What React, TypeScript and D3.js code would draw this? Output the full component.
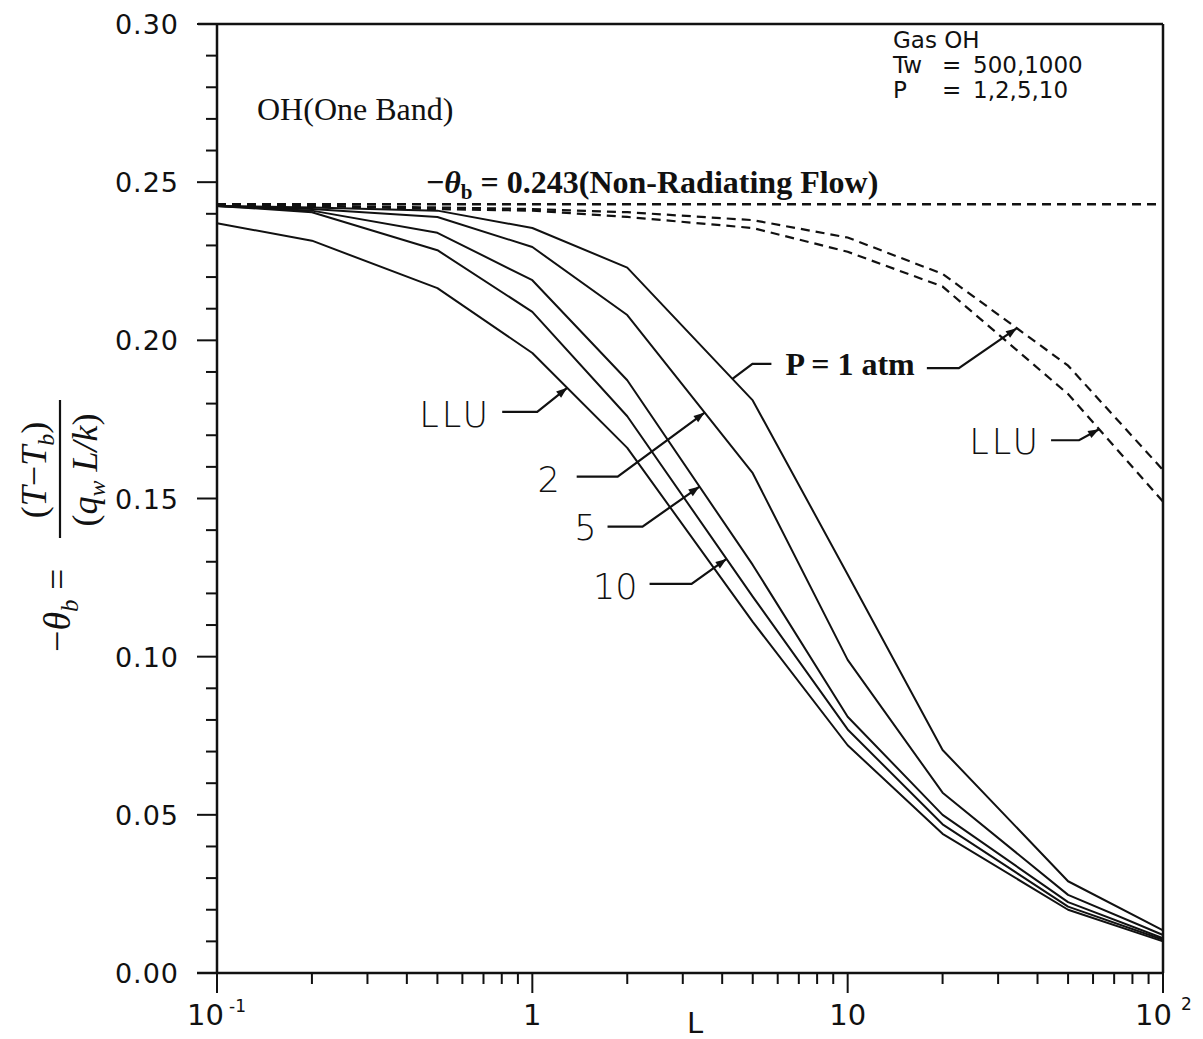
import React from 'react';
import * as d3 from 'd3';

// ---- data ----
const L_VALUES = [0.1, 0.2, 0.5, 1, 2, 5, 10, 20, 50, 100];
const P1_SOLID = [0.2425, 0.242, 0.241, 0.2355, 0.223, 0.181, 0.126, 0.0705, 0.029, 0.0135];
const P2_SOLID = [0.2425, 0.2415, 0.239, 0.2295, 0.208, 0.158, 0.099, 0.057, 0.0247, 0.012];
const P5_SOLID = [0.2425, 0.241, 0.234, 0.219, 0.1874, 0.129, 0.081, 0.05, 0.0224, 0.011];
const P10_SOLID = [0.2425, 0.2405, 0.2285, 0.209, 0.176, 0.119, 0.077, 0.047, 0.021, 0.0105];
const LLU_SOLID = [0.237, 0.2315, 0.2165, 0.196, 0.166, 0.111, 0.072, 0.044, 0.02, 0.01];
const P1_DASHED = [0.2425, 0.2425, 0.242, 0.2415, 0.2405, 0.238, 0.2325, 0.221, 0.192, 0.159];
const LLU_DASHED = [0.2425, 0.2425, 0.2415, 0.241, 0.239, 0.2355, 0.228, 0.217, 0.183, 0.149];
const NON_RADIATING = 0.243;

const X_MAJOR = [0.1, 1, 10, 100];
const Y_TICKS = [0, 0.05, 0.1, 0.15, 0.2, 0.25, 0.3];
const Y_LABELS = ['0.00', '0.05', '0.10', '0.15', '0.20', '0.25', '0.30'];

const SANS = '"DejaVu Sans", sans-serif';
const SERIF = '"Liberation Serif", "Times New Roman", serif';

function interp(series: number[], L: number): number {
  for (let i = 0; i < L_VALUES.length - 1; i++) {
    const a = L_VALUES[i], b = L_VALUES[i + 1];
    if (L >= a && L <= b) {
      const t = (Math.log(L) - Math.log(a)) / (Math.log(b) - Math.log(a));
      return series[i] + t * (series[i + 1] - series[i]);
    }
  }
  return series[series.length - 1];
}

type Leader = {
  series: number[];
  at: number;
  elbow: [number, number];
  end: [number, number];
};

const LEADERS: { label: string; leaders: Leader[]; text: [number, number]; anchor: string; font: string; size: number; weight: string; spacing: number }[] = [
  { label: 'LLU', leaders: [{ series: LLU_SOLID, at: 1.29, elbow: [-30, 24], end: [-65, 24] }], text: [-76, 39], anchor: 'end', font: SANS, size: 35, weight: '300', spacing: 3 },
  { label: '2', leaders: [{ series: P2_SOLID, at: 3.52, elbow: [-87, 64], end: [-128, 64] }], text: [-145, 79], anchor: 'end', font: SANS, size: 35, weight: '300', spacing: 0 },
  { label: '5', leaders: [{ series: P5_SOLID, at: 3.39, elbow: [-57, 40], end: [-92, 40] }], text: [-103, 53], anchor: 'end', font: SANS, size: 35, weight: '300', spacing: 0 },
  { label: '10', leaders: [{ series: P10_SOLID, at: 4.13, elbow: [-35, 25], end: [-77, 25] }], text: [-89, 40], anchor: 'end', font: SANS, size: 35, weight: '300', spacing: 0 },
  { label: 'LLU', leaders: [{ series: LLU_DASHED, at: 62.7, elbow: [-20, 11], end: [-48, 11] }], text: [-58, 25], anchor: 'end', font: SANS, size: 35, weight: '300', spacing: 3 },
];

function Arrow({ tip, from }: { tip: [number, number]; from: [number, number] }) {
  const dx = tip[0] - from[0];
  const dy = tip[1] - from[1];
  const len = Math.hypot(dx, dy);
  const ux = dx / len, uy = dy / len;
  const hl = 11, hw = 4;
  const bx = tip[0] - ux * hl, by = tip[1] - uy * hl;
  const p = `${tip[0]},${tip[1]} ${bx - uy * hw},${by + ux * hw} ${bx + uy * hw},${by - ux * hw}`;
  return <polygon points={p} fill="#111" />;
}

export default function App() {
  const x = d3.scaleLog().domain([0.1, 100]).range([217, 1163]);
  const y = d3.scaleLinear().domain([0, 0.3]).range([973, 24]);
  const line = d3.line<number>().x((_, i) => x(L_VALUES[i])).y((d) => y(d));

  const solids = [P1_SOLID, P2_SOLID, P5_SOLID, P10_SOLID, LLU_SOLID];
  const dashed = [P1_DASHED, LLU_DASHED];

  const minorX: number[] = [];
  for (let e = -1; e < 2; e++) for (let k = 2; k <= 9; k++) minorX.push(k * Math.pow(10, e));
  const minorY: number[] = d3.range(0, 31).map((i) => i / 100).filter((v) => Math.round(v * 100) % 5 !== 0);

  const x0 = x(0.1), x1 = x(100), y0 = y(0), y1 = y(0.3);

  // P = 1 atm annotation
  const pLeftTip: [number, number] = [x(4.31), y(interp(P1_SOLID, 4.31))];
  const pRightTip: [number, number] = [x(34.4), y(interp(P1_DASHED, 34.4))];

  return (
    <svg width={1203} height={1039} style={{ position: 'absolute', left: 0, top: 0, background: '#fff' }}>
      <rect x={0} y={0} width={1203} height={1039} fill="#fff" />
      {/* frame */}
      <g stroke="#111" strokeWidth={2.5} fill="none">
        <line x1={x0} y1={y0} x2={x0} y2={y1} />
        <line x1={x0 - 19} y1={y1} x2={x1} y2={y1} />
        <line x1={x1} y1={y1} x2={x1} y2={y0} />
        <line x1={x0 - 20} y1={y0} x2={x1} y2={y0} />
      </g>
      {/* ticks */}
      <g stroke="#111" strokeWidth={2}>
        {Y_TICKS.map((v) => (
          <line key={'ym' + v} x1={x0 - 20} x2={x0} y1={y(v)} y2={y(v)} />
        ))}
        {minorY.map((v) => (
          <line key={'yn' + v} x1={x0 - 11} x2={x0} y1={y(v)} y2={y(v)} />
        ))}
        {X_MAJOR.map((v) => (
          <line key={'xm' + v} x1={x(v)} x2={x(v)} y1={y0} y2={y0 + 20} />
        ))}
        {minorX.map((v) => (
          <line key={'xn' + v} x1={x(v)} x2={x(v)} y1={y0} y2={y0 + 11} />
        ))}
      </g>
      {/* y tick labels */}
      <g fontFamily={SANS} fontSize={27} fill="#111" textAnchor="end">
        {Y_TICKS.map((v, i) => (
          <text key={'yl' + v} x={x0 - 38} y={y(v) + 10} letterSpacing={1}>
            {Y_LABELS[i]}
          </text>
        ))}
      </g>
      {/* x tick labels */}
      <g fontFamily={SANS} fontSize={29} fill="#111">
        <text x={x(0.1) - 30} y={1025}>10</text>
        <text x={x(0.1) + 12} y={1012} fontSize={17}>-1</text>
        <text x={x(1)} y={1025} textAnchor="middle">1</text>
        <text x={x(10)} y={1025} textAnchor="middle">10</text>
        <text x={x(100) - 28} y={1025}>10</text>
        <text x={x(100) + 18} y={1010} fontSize={17}>2</text>
        <text x={695} y={1033} textAnchor="middle">L</text>
      </g>
      {/* non-radiating line */}
      <line x1={x(0.1)} x2={x(100)} y1={y(NON_RADIATING)} y2={y(NON_RADIATING)} stroke="#111" strokeWidth={2.4} strokeDasharray="9,6" />
      {/* dashed curves */}
      {dashed.map((s, i) => (
        <path key={'d' + i} d={line(s) || ''} fill="none" stroke="#111" strokeWidth={2.2} strokeDasharray="9,6" />
      ))}
      {/* solid curves */}
      {solids.map((s, i) => (
        <path key={'s' + i} d={line(s) || ''} fill="none" stroke="#111" strokeWidth={2} strokeLinejoin="round" />
      ))}
      {/* leader annotations */}
      {LEADERS.map((a, i) => {
        const ld = a.leaders[0];
        const tip: [number, number] = [x(ld.at), y(interp(ld.series, ld.at))];
        const elbow: [number, number] = [tip[0] + ld.elbow[0], tip[1] + ld.elbow[1]];
        const end: [number, number] = [tip[0] + ld.end[0], tip[1] + ld.end[1]];
        return (
          <g key={'a' + i}>
            <polyline points={`${end[0]},${end[1]} ${elbow[0]},${elbow[1]} ${tip[0]},${tip[1]}`} fill="none" stroke="#111" strokeWidth={2.2} />
            <Arrow tip={tip} from={elbow} />
            <text x={tip[0] + a.text[0]} y={tip[1] + a.text[1]} textAnchor={a.anchor} fontFamily={a.font} fontSize={a.size} fontWeight={a.weight} letterSpacing={a.spacing} fill="#111">
              {a.label}
            </text>
          </g>
        );
      })}
      {/* P = 1 atm */}
      <g>
        <polyline points={`${pLeftTip[0] + 39},${pLeftTip[1] - 15} ${pLeftTip[0] + 20},${pLeftTip[1] - 15} ${pLeftTip[0]},${pLeftTip[1]}`} fill="none" stroke="#111" strokeWidth={2.2} />
        <polyline points={`${pRightTip[0] - 90},${pRightTip[1] + 40} ${pRightTip[0] - 58},${pRightTip[1] + 40} ${pRightTip[0]},${pRightTip[1]}`} fill="none" stroke="#111" strokeWidth={2.2} />
        <Arrow tip={pRightTip} from={[pRightTip[0] - 58, pRightTip[1] + 40]} />
        <text x={pLeftTip[0] + 53} y={pLeftTip[1] - 4} fontFamily={SERIF} fontWeight="bold" fontSize={32} fill="#111">
          P = 1 atm
        </text>
      </g>
      {/* in-plot texts */}
      <text x={257} y={120} fontFamily={SERIF} fontSize={32} fill="#111">OH(One Band)</text>
      <text x={426} y={193} fontFamily={SERIF} fontWeight="bold" fontSize={32} fill="#111">
        <tspan>−</tspan>
        <tspan fontStyle="italic">θ</tspan>
        <tspan fontSize={21} dy={6}>b</tspan>
        <tspan dy={-6}> = 0.243(Non-Radiating Flow)</tspan>
      </text>
      <g fontFamily={SANS} fontSize={23} fill="#111">
        <text x={893} y={48}>Gas  OH</text>
        <text x={893} y={73}>Tw</text>
        <text x={942} y={73}>=</text>
        <text x={973} y={73}>500,1000</text>
        <text x={893} y={98}>P</text>
        <text x={942} y={98}>=</text>
        <text x={973} y={98}>1,2,5,10</text>
      </g>
      {/* y-axis title */}
      <g transform="translate(60,500) rotate(-90)" fontFamily={SERIF} fill="#111">
        <text x={-152} y={10} fontSize={38}>
          <tspan>−</tspan>
          <tspan fontStyle="italic">θ</tspan>
          <tspan fontStyle="italic" fontSize={25} dy={8}>b</tspan>
          <tspan dy={-8}> =</tspan>
        </text>
        <line x1={-38} x2={100} y1={0} y2={0} stroke="#111" strokeWidth={2.2} />
        <text x={30} y={-14} fontSize={36} fontStyle="italic" textAnchor="middle">
          <tspan fontStyle="normal">(</tspan>
          <tspan>T</tspan>
          <tspan fontStyle="normal">−</tspan>
          <tspan>T</tspan>
          <tspan fontSize={24} dy={8}>b</tspan>
          <tspan fontStyle="normal" dy={-8}>)</tspan>
        </text>
        <text x={30} y={37} fontSize={36} fontStyle="italic" textAnchor="middle">
          <tspan fontStyle="normal">(</tspan>
          <tspan>q</tspan>
          <tspan fontSize={24} dy={8}>w</tspan>
          <tspan dy={-8}> L/k</tspan>
          <tspan fontStyle="normal">)</tspan>
        </text>
      </g>
    </svg>
  );
}
